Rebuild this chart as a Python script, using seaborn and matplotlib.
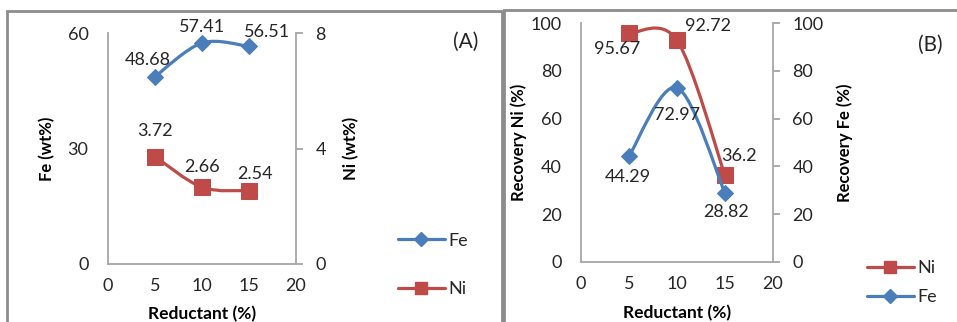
import numpy as np
import seaborn as sns
import matplotlib.pyplot as plt
from matplotlib.path import Path
from matplotlib.patches import PathPatch, Rectangle
from matplotlib.lines import Line2D

# data
reductant = [5, 10, 15]
fe_grade = [48.68, 57.41, 56.51]
ni_grade = [3.72, 2.66, 2.54]
ni_recovery = [95.67, 92.72, 36.2]
fe_recovery = [44.29, 72.97, 28.82]

fe_color = '#4A7EBB'
ni_color = '#BE4B48'
spine_color = '#A6A6A6'
text_color = '#262626'

sns.set_style('white')
plt.rcParams['font.family'] = ['Lato', 'DejaVu Sans']

W, H = 957, 322
fig = plt.figure(figsize=(W / 100, H / 100), dpi=100)


def px_axes(left, top, right, bottom):
    return fig.add_axes([left / W, 1 - bottom / H, (right - left) / W, (bottom - top) / H])


def smooth_line(ax, xs, ys, color):
    # excel-like smoothed line (catmull-rom as cubic bezier)
    pts = np.column_stack([xs, ys]).astype(float)
    pad = np.vstack([pts[0], pts, pts[-1]])
    verts = [pts[0]]
    codes = [Path.MOVETO]
    for i in range(len(pts) - 1):
        p0, p1, p2, p3 = pad[i], pad[i + 1], pad[i + 2], pad[i + 3]
        verts += [p1 + (p2 - p0) / 6, p2 - (p3 - p1) / 6, p2]
        codes += [Path.CURVE4] * 3
    ax.add_patch(PathPatch(Path(verts, codes), fill=False, edgecolor=color,
                           lw=2.3, capstyle='round', joinstyle='round', zorder=2))


def series(ax, ys, color, marker, ms):
    smooth_line(ax, reductant, ys, color)
    sns.lineplot(x=reductant, y=ys, ax=ax, color=color, marker=marker, markersize=ms,
                 markeredgecolor=color, linestyle='', zorder=3)


def labels(ax, ys, offsets):
    for x, y, (dx, dy) in zip(reductant, ys, offsets):
        ax.annotate(f'{y:g}', (x, y), xytext=(dx, -dy), textcoords='offset pixels',
                    ha='center', va='center', fontsize=13, color=text_color, zorder=4)


def style_axes(ax, ax2, yticks, y2ticks, ylabel, y2label, lx, rx, xl):
    ax.set_xlim(0, 20)
    ax.set_xticks([0, 5, 10, 15, 20])
    for a, t in ((ax, yticks), (ax2, y2ticks)):
        a.set_ylim(0, t[-1])
        a.set_yticks(t)
        for s in a.spines.values():
            s.set_visible(False)
    ax.spines['left'].set_visible(True)
    ax.spines['bottom'].set_visible(True)
    ax2.spines['right'].set_visible(True)
    for s in (ax.spines['left'], ax.spines['bottom'], ax2.spines['right']):
        s.set_color(spine_color)
        s.set_linewidth(1.3)
    ax.tick_params(axis='y', length=0, pad=14, labelsize=13, labelcolor=text_color)
    ax.tick_params(axis='x', length=0, pad=10, labelsize=13, labelcolor=text_color)
    ax2.tick_params(axis='y', right=True, length=5, width=1.3, color=spine_color, pad=9,
                    labelsize=13, labelcolor=text_color)
    ax.set_xlabel('Reductant (%)', fontsize=12.5, fontweight='bold', color='black')
    ax.xaxis.set_label_coords(0.5, xl)
    ax.set_ylabel(ylabel, fontsize=12, fontweight='bold', color='black')
    ax.yaxis.set_label_coords(lx, 0.5)
    ax2.set_ylabel(y2label, fontsize=12, fontweight='bold', color='black')
    ax2.yaxis.set_label_coords(rx, 0.5)
    ax.patch.set_visible(False)
    ax2.patch.set_visible(False)


# panel frames
fig.add_artist(Rectangle((7 / W, -0.2), 495 / W, (H - 11) / H + 0.2, transform=fig.transFigure,
                         fill=False, edgecolor='#8C8C8C', lw=2))
fig.add_artist(Rectangle((504 / W, -0.2), 470 / W, (H - 10) / H + 0.2, transform=fig.transFigure,
                         fill=False, edgecolor='#8C8C8C', lw=2))

# (A)
axA = px_axes(108, 33, 296, 264)
axA2 = axA.twinx()
series(axA, fe_grade, fe_color, 'D', 8.5)
series(axA2, ni_grade, ni_color, 's', 11)
labels(axA, fe_grade, [(-7, -17), (0, -16), (18, -14)])
labels(axA2, ni_grade, [(0, -26), (0, -20), (6, -17)])
style_axes(axA, axA2, [0, 30, 60], [0, 4, 8], 'Fe (wt%)', 'Ni (wt%)', -0.28, 1.25, -0.18)
fig.text(466 / W, 1 - 42 / H, '(A)', fontsize=15, ha='center', va='center', color=text_color)

handles_a = [Line2D([], [], color=fe_color, lw=2.3, marker='D', markersize=7),
             Line2D([], [], color=ni_color, lw=2.3, marker='s', markersize=9)]
fig.legend(handles_a, ['Fe', 'Ni'], loc='center left', bbox_to_anchor=(398 / W, 1 - 265 / H),
           frameon=False, fontsize=13, handlelength=2.6, handletextpad=0.2,
           labelspacing=1.8, borderpad=0, borderaxespad=0, labelcolor=text_color)

# (B)
axB = px_axes(581, 23, 773, 262)
axB2 = axB.twinx()
series(axB, ni_recovery, ni_color, 's', 11)
series(axB2, fe_recovery, fe_color, 'D', 8.5)
labels(axB, ni_recovery, [(-12, 16), (31, -14), (14, -19)])
labels(axB2, fe_recovery, [(-1, 21), (0, 27), (1, 19)])
style_axes(axB, axB2, [0, 20, 40, 60, 80, 100], [0, 20, 40, 60, 80, 100],
           'Recovery Ni (%)', 'Recovery Fe (%)', -0.28, 1.33, -0.18)
fig.text(930 / W, 1 - 45 / H, '(B)', fontsize=15, ha='center', va='center', color=text_color)

handles_b = [Line2D([], [], color=ni_color, lw=2.3, marker='s', markersize=9),
             Line2D([], [], color=fe_color, lw=2.3, marker='D', markersize=7)]
fig.legend(handles_b, ['Ni', 'Fe'], loc='center left', bbox_to_anchor=(867 / W, 1 - 282.5 / H),
           frameon=False, fontsize=13, handlelength=2.6, handletextpad=0.2,
           labelspacing=0.7, borderpad=0, borderaxespad=0, labelcolor=text_color)

fig.savefig('out.png', dpi=100)
